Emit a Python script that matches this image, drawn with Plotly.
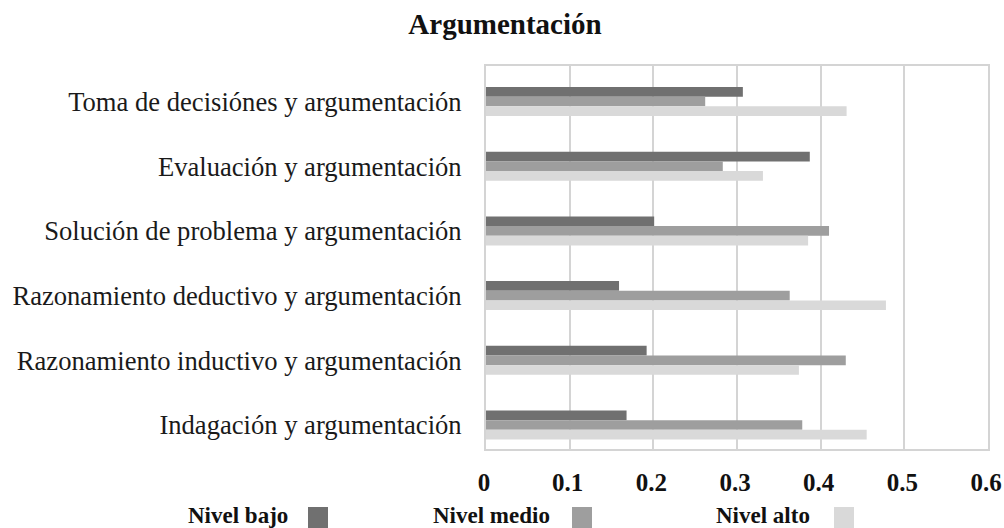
import plotly.graph_objects as go

categories = [
    "Toma de decisiónes y argumentación",
    "Evaluación y argumentación",
    "Solución de problema y argumentación",
    "Razonamiento deductivo y argumentación",
    "Razonamiento inductivo y argumentación",
    "Indagación y argumentación",
]
nivel_bajo = [0.307, 0.387, 0.201, 0.159, 0.192, 0.168]
nivel_medio = [0.262, 0.283, 0.410, 0.363, 0.430, 0.378]
nivel_alto = [0.431, 0.331, 0.385, 0.478, 0.374, 0.455]
series_names = ["Nivel bajo", "Nivel medio", "Nivel alto"]
series_colors = ["#707070", "#9e9e9e", "#d9d9d9"]
x_ticks = [0, 0.1, 0.2, 0.3, 0.4, 0.5, 0.6]
x_ticklabels = ["0", "0.1", "0.2", "0.3", "0.4", "0.5", "0.6"]

FONT = "Liberation Serif, Times New Roman, serif"

fig = go.Figure()
for name, vals, col in zip(series_names, [nivel_bajo, nivel_medio, nivel_alto], series_colors):
    fig.add_trace(go.Bar(
        y=categories, x=vals, name=name, orientation="h",
        marker=dict(color=col, line=dict(width=0)),
        showlegend=False,
    ))

W, H = 1004, 528
fig.update_layout(
    width=W, height=H,
    margin=dict(l=486, r=16, t=66, b=79, autoexpand=False),
    paper_bgcolor="white", plot_bgcolor="white",
    barmode="group", bargap=0.552, bargroupgap=0,
    font=dict(family=FONT, color="#1a1a1a"),
    title=dict(text="<b>Argumentación</b>", x=505 / W, xanchor="center",
               y=1 - 24 / H, yanchor="middle",
               font=dict(family=FONT, size=29, color="#111")),
)
fig.update_xaxes(
    range=[0, 0.6], tickvals=x_ticks, ticktext=[f"<b>{t}</b>" for t in x_ticklabels],
    showgrid=True, gridcolor="#d4d4d4", gridwidth=1.5,
    showline=True, linecolor="#d4d4d4", linewidth=2, mirror=True,
    zeroline=False, ticks="", ticklabelstandoff=10, ticklabelshift=-2,
    automargin=False,
    tickfont=dict(family=FONT, size=25, color="#111"),
    fixedrange=True,
)
fig.update_yaxes(
    range=[5.371, -0.549], categoryorder="array", categoryarray=categories,
    showgrid=False, showline=True, linecolor="#d4d4d4", linewidth=2, mirror=True,
    ticks="", ticklabelstandoff=17, automargin=False,
    tickfont=dict(family=FONT, size=26.6, color="#1a1a1a"),
    fixedrange=True,
)

# Custom legend: label text followed by colour swatch (positions relative to plot area)
plot_w, plot_h = 502, 383
def px_x(p):
    return (p - 486) / plot_w
def px_y(p):
    return (449 - p) / plot_h

legend_text_right = [290, 552, 812]
legend_swatch_left = [308, 572, 834]
for name, col, tr, sl in zip(series_names, series_colors, legend_text_right, legend_swatch_left):
    fig.add_annotation(
        text=f"<b>{name}</b>", xref="paper", yref="paper",
        x=px_x(tr), y=px_y(515), xanchor="right", yanchor="middle",
        showarrow=False, font=dict(family=FONT, size=23, color="#111"),
    )
    fig.add_shape(
        type="rect", xref="paper", yref="paper",
        x0=px_x(sl), x1=px_x(sl + 20), y0=px_y(528), y1=px_y(507),
        fillcolor=col, line=dict(width=0),
    )

fig.write_html(
    "out.html",
    config={"displayModeBar": False},
    post_script="document.body.style.margin='0';document.body.style.overflow='hidden';",
)
